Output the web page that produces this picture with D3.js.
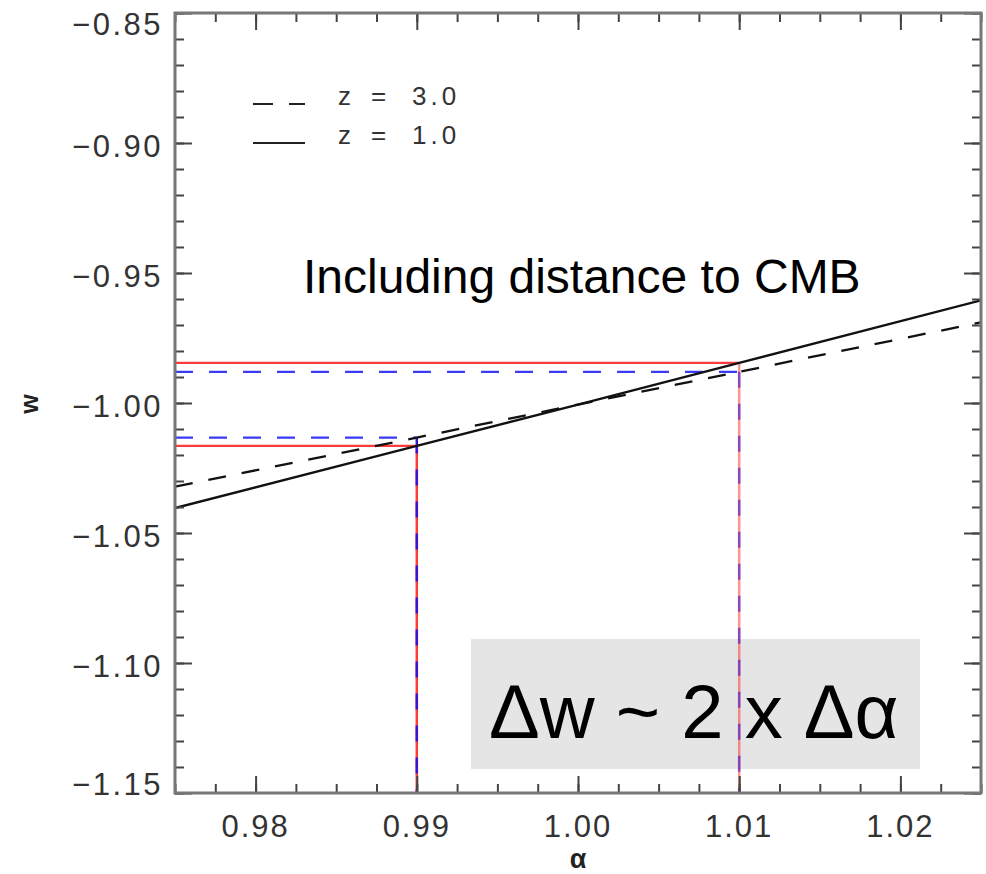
<!DOCTYPE html>
<html>
<head>
<meta charset="utf-8">
<script src="https://cdn.jsdelivr.net/npm/d3@7"></script>
<style>
  body { margin: 0; background: #fff; }
  text { font-family: "Liberation Sans", Arial, Helvetica, sans-serif; }
</style>
</head>
<body>
<div id="chart"></div>
<script>
// w vs alpha, two redshifts, with the +-0.01 alpha bracket

const alphaPts = [0.975, 0.99, 1.00, 1.01, 1.025];
const wZ1 = [-1.0404, -1.0165, -1.0006, -0.9846, -0.9605];
const wZ3 = [-1.0322, -1.0133, -1.0006, -0.9880, -0.9690];

const alphaMarks = [0.99, 1.01];
const wRed = [-1.0165, -0.9846];   // z = 1.0 crossings
const wBlue = [-1.0133, -0.9880];  // z = 3.0 crossings

const xMajor = [0.98, 0.99, 1.00, 1.01, 1.02];
const xLabels = ["0.98", "0.99", "1.00", "1.01", "1.02"];
const yMajor = [-0.85, -0.90, -0.95, -1.00, -1.05, -1.10, -1.15];
const yLabels = ["\u22120.85", "\u22120.90", "\u22120.95", "\u22121.00", "\u22121.05", "\u22121.10", "\u22121.15"];

const legendItems = [
  { label: "3.0", dash: "20,16" },
  { label: "1.0", dash: null }
];

const W = 986, H = 874;
const pLeft = 175, pRight = 981, pTop = 13, pBottom = 793;

const svg = d3.select("#chart").append("svg")
  .attr("width", W)
  .attr("height", H);

const x = d3.scaleLinear().domain([0.975, 1.025]).range([pLeft, pRight]);
const y = d3.scaleLinear().domain([-0.85, -1.15]).range([pTop, pBottom]);

svg.append("clipPath").attr("id", "plot")
  .append("rect")
  .attr("x", pLeft).attr("y", pTop)
  .attr("width", pRight - pLeft).attr("height", pBottom - pTop);

// grey box behind the big annotation
svg.append("rect")
  .attr("x", 471).attr("y", 639)
  .attr("width", 449).attr("height", 130)
  .attr("fill", "#e5e5e5");

const plot = svg.append("g").attr("clip-path", "url(#plot)");

// bracket lines: red solid then blue dashed on top
alphaMarks.forEach((a, i) => {
  const op = i === 1 ? 0.55 : 1;
  plot.append("line")
    .attr("x1", pLeft).attr("x2", x(a))
    .attr("y1", y(wRed[i])).attr("y2", y(wRed[i]))
    .attr("stroke", "#ff3c3c").attr("stroke-width", 2.2);
  plot.append("line")
    .attr("x1", x(a)).attr("x2", x(a))
    .attr("y1", y(wRed[i])).attr("y2", pBottom)
    .attr("stroke", "#ff3c3c").attr("stroke-width", 2.5)
    .attr("stroke-opacity", op);
});
alphaMarks.forEach((a, i) => {
  const op = i === 1 ? 0.6 : 1;
  plot.append("line")
    .attr("x1", pLeft).attr("x2", x(a))
    .attr("y1", y(wBlue[i])).attr("y2", y(wBlue[i]))
    .attr("stroke", "#3a3af5").attr("stroke-width", 2.2)
    .attr("stroke-dasharray", "18,16");
  plot.append("line")
    .attr("x1", x(a)).attr("x2", x(a))
    .attr("y1", y(wBlue[i])).attr("y2", pBottom)
    .attr("stroke", "#3a14d0").attr("stroke-width", 2.5)
    .attr("stroke-dasharray", "16,16")
    .attr("stroke-opacity", op);
});

const line = d3.line()
  .x((d) => x(d[0]))
  .y((d) => y(d[1]));

plot.append("path")
  .datum(alphaPts.map((a, i) => [a, wZ3[i]]))
  .attr("d", line)
  .attr("fill", "none")
  .attr("stroke", "#111")
  .attr("stroke-width", 2.3)
  .attr("stroke-dasharray", "18,16");

plot.append("path")
  .datum(alphaPts.map((a, i) => [a, wZ1[i]]))
  .attr("d", line)
  .attr("fill", "none")
  .attr("stroke", "#111")
  .attr("stroke-width", 2.3);

// ticks on all four sides, pointing inward
const xMinor = d3.range(0, 21).map((i) => 0.975 + i * 0.0025);
const yMinor = d3.range(0, 31).map((i) => -0.85 - i * 0.01);

const tickStyle = (g) => {
  g.select(".domain").remove();
  g.selectAll("line").attr("stroke", "#444").attr("stroke-width", 2);
};

svg.append("g").attr("transform", `translate(0,${pBottom})`)
  .call(d3.axisBottom(x).tickValues(xMinor).tickSize(-9).tickFormat(""))
  .call(tickStyle);
svg.append("g").attr("transform", `translate(0,${pBottom})`)
  .call(d3.axisBottom(x).tickValues(xMajor).tickSize(-17).tickFormat(""))
  .call(tickStyle);
svg.append("g").attr("transform", `translate(0,${pTop})`)
  .call(d3.axisTop(x).tickValues(xMinor).tickSize(-9).tickFormat(""))
  .call(tickStyle);
svg.append("g").attr("transform", `translate(0,${pTop})`)
  .call(d3.axisTop(x).tickValues(xMajor).tickSize(-17).tickFormat(""))
  .call(tickStyle);
svg.append("g").attr("transform", `translate(${pLeft},0)`)
  .call(d3.axisLeft(y).tickValues(yMinor).tickSize(-9).tickFormat(""))
  .call(tickStyle);
svg.append("g").attr("transform", `translate(${pLeft},0)`)
  .call(d3.axisLeft(y).tickValues(yMajor).tickSize(-17).tickFormat(""))
  .call(tickStyle);
svg.append("g").attr("transform", `translate(${pRight},0)`)
  .call(d3.axisRight(y).tickValues(yMinor).tickSize(-9).tickFormat(""))
  .call(tickStyle);
svg.append("g").attr("transform", `translate(${pRight},0)`)
  .call(d3.axisRight(y).tickValues(yMajor).tickSize(-17).tickFormat(""))
  .call(tickStyle);

// frame
svg.append("rect")
  .attr("x", pLeft).attr("y", pTop)
  .attr("width", pRight - pLeft).attr("height", pBottom - pTop)
  .attr("fill", "none")
  .attr("stroke", "#777")
  .attr("stroke-width", 3);

// tick labels
svg.selectAll(".xlab")
  .data(xMajor)
  .enter().append("text")
  .attr("x", (d) => x(d))
  .attr("y", 837)
  .attr("text-anchor", "middle")
  .attr("font-size", 31)
  .attr("letter-spacing", 2)
  .attr("fill", "#333")
  .text((d, i) => xLabels[i]);

svg.selectAll(".ylab")
  .data(yMajor)
  .enter().append("text")
  .attr("x", 163)
  .attr("y", (d, i) => y(d) + (i === 0 ? 22 : i === yMajor.length - 1 ? 2 : 13.5))
  .attr("text-anchor", "end")
  .attr("font-size", 31)
  .attr("letter-spacing", 2.5)
  .attr("fill", "#333")
  .text((d, i) => yLabels[i]);

// axis titles
svg.append("text")
  .attr("x", 578).attr("y", 868)
  .attr("text-anchor", "middle")
  .attr("font-size", 27)
  .attr("font-weight", "bold")
  .attr("fill", "#222")
  .text("\u03b1");

svg.append("text")
  .attr("transform", "translate(38,404) rotate(-90)")
  .attr("text-anchor", "middle")
  .attr("font-size", 25)
  .attr("font-weight", "bold")
  .attr("fill", "#222")
  .text("w");

// legend
legendItems.forEach((d, i) => {
  const ly = i === 0 ? 104 : 143;
  svg.append("line")
    .attr("x1", 253).attr("x2", 305)
    .attr("y1", ly).attr("y2", ly)
    .attr("stroke", "#222").attr("stroke-width", 2.2)
    .attr("stroke-dasharray", d.dash);
  const t = svg.append("text")
    .attr("y", ly + 1)
    .attr("font-size", 26)
    .attr("fill", "#333");
  t.append("tspan").attr("x", 338).text("z");
  t.append("tspan").attr("x", 371).text("=");
  t.append("tspan").attr("x", 412).attr("letter-spacing", 4).text(d.label);
});

// annotations
svg.append("text")
  .attr("x", 303).attr("y", 293)
  .attr("font-size", 48)
  .attr("fill", "#000")
  .text("Including distance to CMB");

svg.append("text")
  .attr("x", 489).attr("y", 738)
  .attr("font-size", 76)
  .attr("fill", "#000")
  .text("\u0394w ~ 2 x \u0394\u03b1");
</script>
</body>
</html>
